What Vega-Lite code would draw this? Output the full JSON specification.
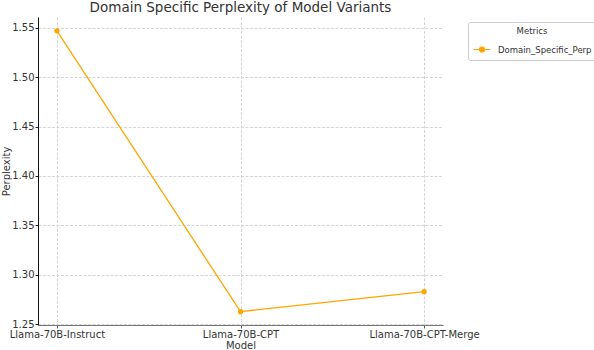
{
  "$schema": "https://vega.github.io/schema/vega-lite/v6.json",
  "autosize": "none",
  "width": 405,
  "height": 308,
  "padding": {"left": 38, "top": 17, "right": 151, "bottom": 25},
  "background": "white",
  "title": {"text": "Domain Specific Perplexity of Model Variants", "font": "DejaVu Sans", "fontSize": 13.5, "fontWeight": "normal", "color": "#333333", "offset": 3, "anchor": "middle"},
  "data": {"values": [
    {"Model": "Llama-70B-Instruct", "Perplexity": 1.547, "Metric": "Domain_Specific_Perp"},
    {"Model": "Llama-70B-CPT", "Perplexity": 1.2625, "Metric": "Domain_Specific_Perp"},
    {"Model": "Llama-70B-CPT-Merge", "Perplexity": 1.2828, "Metric": "Domain_Specific_Perp"}
  ]},
  "mark": {"type": "line", "point": {"filled": true, "size": 28}, "strokeWidth": 1.3},
  "encoding": {
    "x": {"field": "Model", "type": "ordinal", "sort": null,
      "scale": {"type": "point", "padding": 0.103},
      "axis": {"title": "Model", "labelAngle": 0, "labelFont": "DejaVu Sans", "labelFontSize": 10, "labelColor": "#333333", "titleFont": "DejaVu Sans", "titleFontSize": 10, "titleFontWeight": "normal", "titleColor": "#333333", "titlePadding": 1, "labelPadding": 1, "tickSize": 3, "tickColor": "#555555", "domainColor": "#777777", "grid": true, "gridDash": [3, 1.5], "gridColor": "#d5d5d5"}},
    "y": {"field": "Perplexity", "type": "quantitative",
      "scale": {"domain": [1.249, 1.561], "zero": false, "nice": false},
      "axis": {"title": "Perplexity", "values": [1.25, 1.3, 1.35, 1.4, 1.45, 1.5, 1.55], "format": ".2f", "labelFont": "DejaVu Sans", "labelFontSize": 10, "labelColor": "#333333", "titleFont": "DejaVu Sans", "titleFontSize": 10, "titleFontWeight": "normal", "titleColor": "#333333", "titlePadding": 0, "labelPadding": 1, "tickSize": 3, "tickColor": "#222222", "domainColor": "#111111", "grid": true, "gridDash": [3, 1.5], "gridColor": "#d5d5d5"}},
    "color": {"field": "Metric", "type": "nominal",
      "scale": {"range": ["#FFA500"]},
      "legend": {"title": "Metrics", "orient": "none", "legendX": 430, "legendY": 5, "titleAnchor": "middle", "titleFont": "DejaVu Sans", "titleFontSize": 8.5, "titleFontWeight": "normal", "titleColor": "#333333", "labelFont": "DejaVu Sans", "labelFontSize": 8.5, "labelColor": "#333333", "strokeColor": "#cccccc", "padding": 5, "cornerRadius": 2, "labelOffset": 7, "symbolType": "M-1,0L1,0M-0.3,0A0.3,0.3 0 1,1 0.3,0A0.3,0.3 0 1,1 -0.3,0", "symbolSize": 280, "symbolStrokeWidth": 1.2, "symbolFillColor": "#FFA500", "symbolStrokeColor": "#FFA500"}}
  },
  "config": {"view": {"stroke": null}}
}
